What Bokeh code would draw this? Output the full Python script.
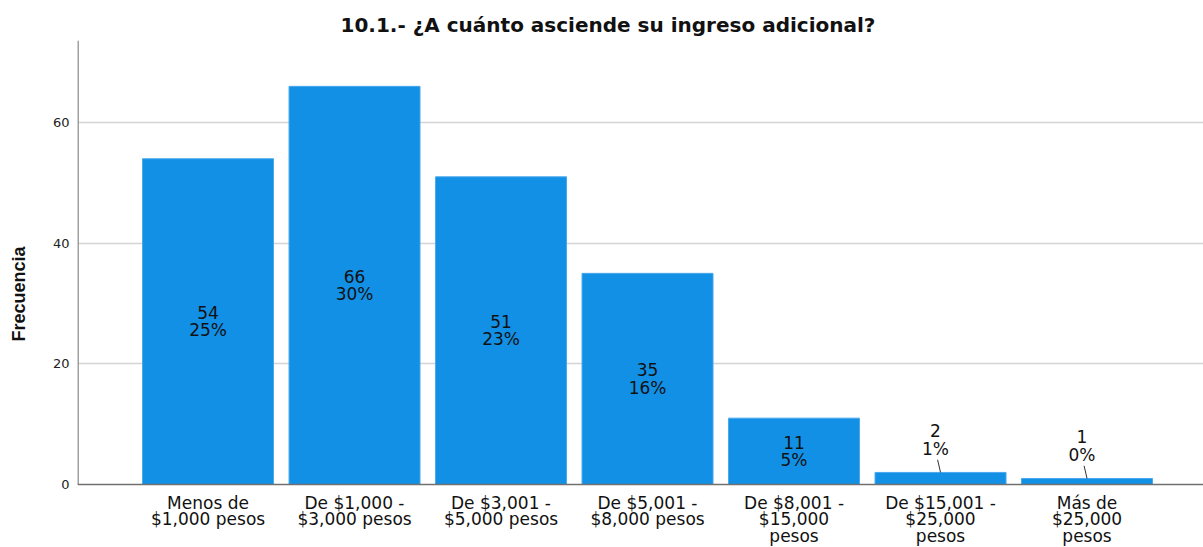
from bokeh.plotting import figure
from bokeh.models import FixedTicker, Range1d, Span
from bokeh.core.properties import value
from bokeh.embed import file_html
from bokeh.resources import INLINE

title = "10.1.- ¿A cuánto asciende su ingreso adicional?"
categories = [
    "Menos de\n$1,000 pesos",
    "De $1,000 -\n$3,000 pesos",
    "De $3,001 -\n$5,000 pesos",
    "De $5,001 -\n$8,000 pesos",
    "De $8,001 -\n$15,000\npesos",
    "De $15,001 -\n$25,000\npesos",
    "Más de\n$25,000\npesos",
]
counts = [54, 66, 51, 35, 11, 2, 1]
percents = ["25%", "30%", "23%", "16%", "5%", "1%", "0%"]
y_ticks = [0, 20, 40, 60]
y_label = "Frecuencia"

FONT = "DejaVu Sans"
BAR = "#1190E6"

xs = list(range(len(categories)))

# plot area: 444 px for the value range, 63 px below zero for the category labels
Y_TOP = 73.6
PLOT_H = 444
LABEL_H = 63
Y_BOTTOM = -LABEL_H * Y_TOP / PLOT_H
X_LO, X_HI = -0.891, 6.795

p = figure(frame_width=1126, frame_height=PLOT_H + LABEL_H, output_backend="svg",
           toolbar_location=None,
           x_range=Range1d(X_LO, X_HI), y_range=Range1d(Y_BOTTOM, Y_TOP),
           min_border_left=77, min_border_right=0, min_border_top=40, min_border_bottom=0,
           background_fill_color="white", border_fill_color="white")
p.outline_line_color = None

p.title.text = title
p.title.align = "left"
p.title.offset = 263
p.title.standoff = 8
p.title.text_font = FONT
p.title.text_font_size = "20px"
p.title.text_font_style = "bold"
p.title.text_color = "#111111"

# grid (above zero only)
p.xgrid.grid_line_color = None
p.ygrid.ticker = FixedTicker(ticks=[t for t in y_ticks if t > 0])
p.ygrid.grid_line_color = "#d4d4d4"
p.ygrid.grid_line_width = 1.5

p.vbar(x=xs, top=counts, width=0.894, fill_color=BAR, line_color="#4AA8EC", line_width=1)

# axis lines
p.add_layout(Span(location=0, dimension="width", line_color="#707070", line_width=1.5))
p.segment(x0=[X_LO], y0=[0], x1=[X_LO], y1=[Y_TOP], line_color="#a0a0a0", line_width=3)

# value labels
inside_x, inside_y, inside_t = [], [], []
out_x, out_y, out_t, seg_x0, seg_y0, seg_x1, seg_y1 = [], [], [], [], [], [], []
for i, (c, pc) in enumerate(zip(counts, percents)):
    if c >= 5:
        inside_x.append(i)
        inside_y.append(c / 2)
        inside_t.append(f"{c}\n{pc}")
    else:
        seg_x0.append(i); seg_y0.append(c)
        seg_x1.append(i - 0.02); seg_y1.append(c + 2.1)
        out_x.append(i - 0.035); out_y.append(c + 2.3)
        out_t.append(f"{c}\n{pc}")

p.text(x=inside_x, y=inside_y, text=inside_t, text_font=value(FONT), text_font_size="17px",
       text_align="center", text_baseline="middle", text_line_height=0.86, text_color="#111111")
p.segment(x0=seg_x0, y0=seg_y0, x1=seg_x1, y1=seg_y1, line_color="#333333", line_width=1)
p.text(x=out_x, y=out_y, text=out_t, text_font=value(FONT), text_font_size="17px",
       text_align="center", text_baseline="bottom", text_line_height=0.9, text_color="#111111")

# category labels below the zero line
p.text(x=xs, y=[0] * len(xs), text=categories, y_offset=8, text_font=value(FONT),
       text_font_size="17px", text_align="center", text_baseline="top",
       text_line_height=0.84, text_color="#111111")

# x axis hidden (drawn by span + text)
p.xaxis.visible = False

# y axis
p.yaxis.ticker = FixedTicker(ticks=y_ticks)
p.yaxis.axis_line_color = None
p.yaxis.major_tick_line_color = None
p.yaxis.major_tick_out = 0
p.yaxis.major_tick_in = 0
p.yaxis.minor_tick_line_color = None
p.yaxis.major_label_text_font = FONT
p.yaxis.major_label_text_font_size = "13px"
p.yaxis.major_label_text_color = "#222222"
p.yaxis.major_label_standoff = 8
p.yaxis.axis_label = y_label
p.yaxis.axis_label_text_font = "Liberation Sans"
p.yaxis.axis_label_text_font_size = "18px"
p.yaxis.axis_label_text_font_style = "bold"
p.yaxis.axis_label_text_color = "#111111"
p.yaxis.axis_label_standoff = 21

open("out.html", "w").write(file_html(p, INLINE))
